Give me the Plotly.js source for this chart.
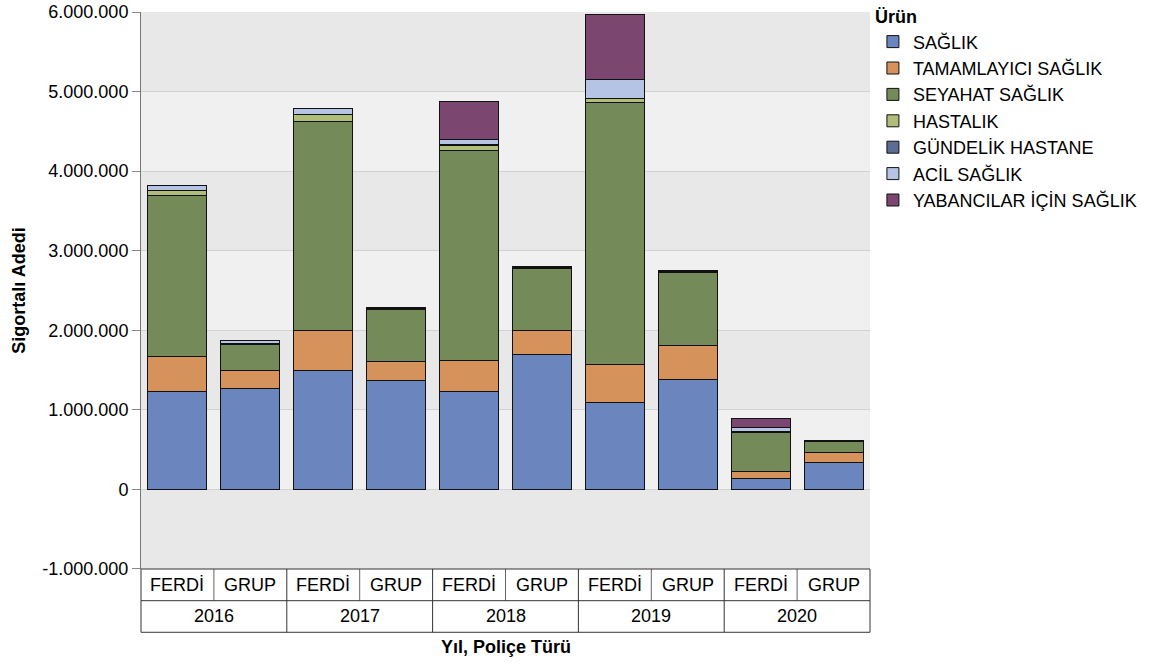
<!DOCTYPE html>
<html>
<head>
<meta charset="utf-8">
<script src="https://cdn.plot.ly/plotly-3.0.1.min.js"></script>
<style>html,body{margin:0;padding:0;background:#fff;}#chart{width:1152px;height:664px;}</style>
</head>
<body>
<div id="chart"></div>
<script>
// Categories
const years = ['2016','2016','2017','2017','2018','2018','2019','2019','2020','2020'];
const policyTypes = ['FERDİ','GRUP','FERDİ','GRUP','FERDİ','GRUP','FERDİ','GRUP','FERDİ','GRUP'];

// Series (Sigortalı Adedi)
const saglik     = [1226000, 1264000, 1490000, 1368000, 1230000, 1694000, 1088000, 1381000, 138000, 335000];
const tamamlayici= [ 440000,  226000,  506000,  239000,  389000,  302000,  485000,  426000,  88000, 125000];
const seyahat    = [2024000,  330000, 2627000,  648000, 2640000,  782000, 3289000,  925000, 493000, 142000];
const hastalik   = [  67000,    8000,   84000,    8000,   67000,    5000,   50000,    5000,   5000,   2000];
const gundelik   = [   5000,    3000,    5000,    5000,    5000,    5000,    5000,   15000,   3000,   5000];
const acil       = [  62000,   35000,   70000,   20000,   62000,   10000,  230000,    2000,  55000,   2000];
const yabanci    = [      0,       0,       0,       0,  477000,       0,  820000,       0, 109000,      0];

const seriesNames = ['SAĞLIK','TAMAMLAYICI SAĞLIK','SEYAHAT SAĞLIK','HASTALIK','GÜNDELİK HASTANE','ACİL SAĞLIK','YABANCILAR İÇİN SAĞLIK'];
const seriesValues = [saglik, tamamlayici, seyahat, hastalik, gundelik, acil, yabanci];
const seriesColors = ['#6b86bf','#d5925a','#748a59','#b0bd79','#5d6c92','#b5c4e4','#7b4670'];

// Y axis ticks
const yTickVals = [-1000000, 0, 1000000, 2000000, 3000000, 4000000, 5000000, 6000000];
const yTickText = ['-1.000.000','0','1.000.000','2.000.000','3.000.000','4.000.000','5.000.000','6.000.000'];

const FONT = 'Liberation Sans, Arial, sans-serif';
const FS = 18;

const traces = seriesNames.map((name, i) => ({
  type: 'bar',
  name: name,
  x: [years, policyTypes],
  y: seriesValues[i],
  marker: {color: seriesColors[i], line: {color: '#111', width: 1}},
  hovertemplate: '%{y}<extra>' + name + '</extra>'
}));

// light background bands and table lines
const shapes = [];
for (let k = 0; k < 3; k++) {
  shapes.push({type: 'rect', xref: 'paper', yref: 'y', x0: 0, x1: 1,
    y0: k * 2000000, y1: k * 2000000 + 1000000, fillcolor: '#f0f0f0', line: {width: 0}, layer: 'below'});
}
const rowA = 0.0557, rowB = 0.1112;
const nCat = years.length;
for (let i = 0; i <= nCat; i++) {
  const full = (i % 2 === 0);
  shapes.push({type: 'line', xref: 'paper', yref: 'paper', x0: i / nCat, x1: i / nCat,
    y0: 0, y1: full ? -rowB : -rowA, line: {color: full ? '#333' : '#666', width: 1}});
}
[0, -rowA, -rowB].forEach(yy => shapes.push({type: 'line', xref: 'paper', yref: 'paper',
  x0: 0, x1: 1, y0: yy, y1: yy, line: {color: '#333', width: 1}}));

// x labels built from category arrays
const annotations = [];
policyTypes.forEach((t, i) => annotations.push({xref: 'paper', yref: 'paper', x: (i + 0.5) / nCat, y: -rowA / 2,
  text: t, showarrow: false, font: {family: FONT, size: FS, color: '#000'}, xanchor: 'center', yanchor: 'middle'}));
for (let i = 0; i < nCat; i += 2) {
  annotations.push({xref: 'paper', yref: 'paper', x: (i + 1) / nCat, y: -(rowA + rowB) / 2,
    text: years[i], showarrow: false, font: {family: FONT, size: FS, color: '#000'}, xanchor: 'center', yanchor: 'middle'});
}
annotations.push({xref: 'paper', yref: 'paper', x: 0.5, y: -0.137, text: '<b>Yıl, Poliçe Türü</b>',
  showarrow: false, font: {family: FONT, size: FS, color: '#000'}, xanchor: 'center', yanchor: 'middle'});

const layout = {
  width: 1152, height: 664,
  margin: {l: 141, r: 282, t: 0, b: 95},
  paper_bgcolor: '#ffffff',
  plot_bgcolor: '#e8e8e8',
  barmode: 'stack',
  bargap: 0.19,
  font: {family: FONT, size: FS, color: '#000'},
  xaxis: {
    type: 'multicategory', automargin: false,
    showticklabels: false, showdividers: false,
    showgrid: false, zeroline: false, showline: false, ticks: ''
  },
  yaxis: {
    automargin: false,
    domain: [0, 0.9789],
    range: [-1000000, 6000000],
    tickvals: yTickVals, ticktext: yTickText,
    ticks: 'outside', ticklen: 8, tickcolor: '#888', tickwidth: 1,
    showline: true, linecolor: '#777', linewidth: 1,
    showgrid: true, gridcolor: '#d2d2d2', gridwidth: 1,
    zeroline: false,
    tickfont: {family: FONT, size: FS, color: '#000'},
    title: {text: '<b>Sigortalı Adedi</b>', font: {family: FONT, size: FS}, standoff: 12}
  },
  legend: {
    x: 1.004, xanchor: 'left', y: 1.0, yanchor: 'top',
    title: {text: '<b>Ürün</b>', font: {family: FONT, size: FS}},
    font: {family: FONT, size: FS, color: '#000'},
    tracegroupgap: 0, traceorder: 'normal',
    bgcolor: 'rgba(0,0,0,0)'
  },
  shapes: shapes,
  annotations: annotations
};

Plotly.newPlot('chart', traces, layout, {displayModeBar: false, staticPlot: true});
</script>
</body>
</html>
